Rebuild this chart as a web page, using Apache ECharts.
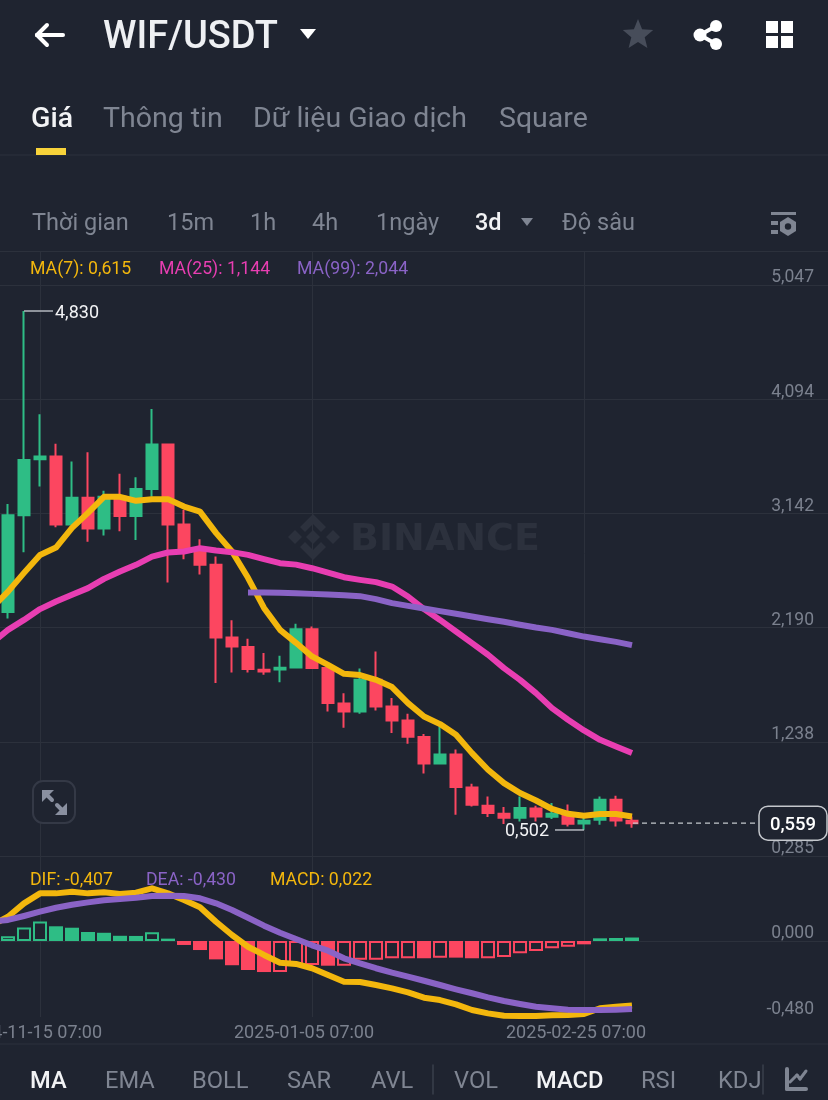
<!DOCTYPE html>
<html><head><meta charset="utf-8">
<style>html,body{margin:0;padding:0;background:#1f2430}#c{width:828px;height:1100px}</style>
<script src="https://cdn.jsdelivr.net/npm/echarts@6/dist/echarts.min.js"></script>
</head><body><div id="c"></div>
<script>
const categories = ['2024-11-06 07:00','2024-11-09 07:00','2024-11-12 07:00','2024-11-15 07:00','2024-11-18 07:00','2024-11-21 07:00','2024-11-24 07:00','2024-11-27 07:00','2024-11-30 07:00','2024-12-03 07:00','2024-12-06 07:00','2024-12-09 07:00','2024-12-12 07:00','2024-12-15 07:00','2024-12-18 07:00','2024-12-21 07:00','2024-12-24 07:00','2024-12-27 07:00','2024-12-30 07:00','2025-01-02 07:00','2025-01-05 07:00','2025-01-08 07:00','2025-01-11 07:00','2025-01-14 07:00','2025-01-17 07:00','2025-01-20 07:00','2025-01-23 07:00','2025-01-26 07:00','2025-01-29 07:00','2025-02-01 07:00','2025-02-04 07:00','2025-02-07 07:00','2025-02-10 07:00','2025-02-13 07:00','2025-02-16 07:00','2025-02-19 07:00','2025-02-22 07:00','2025-02-25 07:00','2025-02-28 07:00','2025-03-03 07:00','2025-03-06 07:00','2025-03-09 07:00','2025-03-12 07:00','2025-03-15 07:00','2025-03-18 07:00','2025-03-21 07:00','2025-03-24 07:00','2025-03-27 07:00','2025-03-30 07:00','2025-04-02 07:00','2025-04-05 07:00','2025-04-08 07:00','2025-04-11 07:00','2025-04-14 07:00'];
const timeTicks = ['2024-11-15 07:00','2025-01-05 07:00','2025-02-25 07:00'];
const priceTicks = ['0,285','1,238','2,190','3,142','4,094','5,047',''];
const macdTicks = ['-0,480','0,000','',''];
// open, close, low, high
const candles = ['-',
[2.319,3.127,2.265,3.221],[3.127,3.588,2.819,4.830],[3.594,3.616,3.366,3.969],[3.616,3.049,3.027,3.722],
[3.049,3.272,3.049,3.574],[3.272,3.016,2.905,3.652],[3.016,3.282,2.957,3.330],[3.282,3.121,2.994,3.472],
[3.121,3.346,2.921,3.444],[3.346,3.716,3.282,4.013],[3.716,3.049,2.565,3.722],[3.049,2.838,2.760,3.171],
[2.844,2.713,2.632,2.927],[2.713,2.107,1.727,2.782],[2.107,2.032,1.815,2.252],[2.027,1.844,1.815,2.096],
[1.838,1.823,1.796,1.977],[1.840,1.854,1.735,1.954],[1.857,2.177,1.848,2.221],[2.177,1.852,1.844,2.199],
[1.852,1.560,1.490,1.854],[1.557,1.490,1.354,1.643],[1.490,1.754,1.471,1.848],[1.754,1.532,1.498,1.990],
[1.532,1.415,1.310,1.602],[1.415,1.279,1.221,1.471],[1.277,1.057,0.973,1.302],[1.057,1.132,1.057,1.371],
[1.132,0.860,0.629,1.173],[0.857,0.712,0.698,0.887],[0.705,0.643,0.610,0.782],[0.637,0.604,0.551,0.693],
[0.604,0.685,0.573,0.782],[0.681,0.615,0.573,0.704],[0.612,0.637,0.593,0.727],[0.629,0.554,0.531,0.714],
[0.557,0.579,0.502,0.615],[0.587,0.754,0.546,0.782],[0.754,0.581,0.531,0.787],[0.579,0.559,0.521,0.615]];
const ma7 = [2.354,2.490,2.646,2.796,2.857,3.021,3.146,3.280,3.280,3.247,3.261,3.261,3.199,3.157,2.980,2.824,2.605,2.354,2.171,2.063,1.949,1.879,1.804,1.794,1.754,1.694,1.560,1.448,1.385,1.296,1.143,1.004,0.893,0.810,0.748,0.677,0.637,0.620,0.635,0.635,0.615];
const ma25 = [2.063,2.171,2.254,2.344,2.407,2.463,2.519,2.596,2.657,2.713,2.782,2.816,2.824,2.852,2.832,2.819,2.796,2.760,2.727,2.715,2.685,2.649,2.610,2.588,2.569,2.532,2.449,2.344,2.254,2.157,2.060,1.963,1.852,1.754,1.643,1.518,1.421,1.332,1.254,1.198,1.144];
const ma99 = ['-','-','-','-','-','-','-','-','-','-','-','-','-','-','-','-',2.482,2.482,2.480,2.477,2.471,2.465,2.460,2.452,2.427,2.394,2.371,2.349,2.327,2.305,2.282,2.260,2.238,2.213,2.190,2.171,2.143,2.115,2.093,2.071,2.044];
const dif = [0.101,0.153,0.238,0.301,0.301,0.311,0.301,0.308,0.297,0.305,0.333,0.301,0.259,0.213,0.122,0.038,-0.036,-0.088,-0.137,-0.145,-0.172,-0.215,-0.257,-0.259,-0.278,-0.299,-0.324,-0.358,-0.373,-0.400,-0.436,-0.457,-0.472,-0.474,-0.474,-0.469,-0.467,-0.461,-0.425,-0.415,-0.407];
const dea = [0.123,0.133,0.158,0.185,0.210,0.229,0.244,0.257,0.265,0.273,0.284,0.286,0.284,0.270,0.238,0.196,0.147,0.097,0.052,0.013,-0.027,-0.061,-0.109,-0.141,-0.172,-0.200,-0.225,-0.251,-0.278,-0.305,-0.330,-0.356,-0.379,-0.398,-0.415,-0.425,-0.434,-0.436,-0.436,-0.434,-0.430];
const macdHist = ['-',0.030,0.086,0.124,0.093,0.084,0.057,0.052,0.033,0.032,0.055,0.015,-0.025,-0.057,-0.116,-0.153,-0.183,-0.196,-0.196,-0.153,-0.152,-0.156,-0.156,-0.118,-0.118,-0.109,-0.109,-0.109,-0.105,-0.105,-0.109,-0.109,-0.101,-0.078,-0.063,-0.046,-0.036,-0.021,0.017,0.019,0.022];
const hollowBars = [1,2,3,10,11,18,19,20,22,23,24,25,26,28,31,32,33,34,35,36,37,40];
const peakLabels = [[2,4.830,'4,830',1],[37,0.502,'0,502',-1]];
const lastPrice = [40,0.559,'0,559'];

const BG='#1f2430', GRID='#2c313c', GREEN='#2ebd85', RED='#fc4660', GOLD='#f3b70d', PINK='#e83eb2', PURPLE='#8a63c6', AXIS='#7b818e', GRAY='#7f8592';
const FONT='Roboto';

function t(text,x,y,size,fill,weight,align,z){return {type:'text',x:x,y:y+2,z:z||10,silent:true,style:{text:text,fill:fill,fontSize:size,fontFamily:FONT,fontWeight:weight||400,align:align||'left',verticalAlign:'middle'}};}
function poly(points,fill,z){return {type:'polygon',z:z||10,silent:true,shape:{points:points},style:{fill:fill}};}
function rect(x,y,w,h,fill,r,z){return {type:'rect',z:z||10,silent:true,shape:{x:x,y:y,width:w,height:h,r:r||0},style:{fill:fill}};}
function ln(x1,y1,x2,y2,stroke,w,z){return {type:'line',z:z||10,silent:true,shape:{x1:x1,y1:y1,x2:x2,y2:y2},style:{stroke:stroke,lineWidth:w,lineCap:'round'}};}
function circ(cx,cy,r,fill,z){return {type:'circle',z:z||10,silent:true,shape:{cx:cx,cy:cy,r:r},style:{fill:fill}};}

const WM='#2c313d';
const graphics=[
  // header
  ln(37,35,63,35,'#fff',4), ln(37,35,47,25,'#fff',4), ln(37,35,47,45,'#fff',4),
  t('WIF/USDT',103,36,38,'#eef0f3',500),
  poly([[300,29],[316,29],[308,39]],'#fff'),
  poly([[638,19],[642.1,29.3],[653.2,30.1],[644.7,37.2],[647.4,47.9],[638,42],[628.6,47.9],[631.3,37.2],[622.8,30.1],[633.9,29.3]],'#474d5a'),
  ln(716,26,700,35,'#fff',4), ln(700,35,716,44,'#fff',4), circ(716,26,6,'#fff'), circ(700,35,6.5,'#fff'), circ(716,44,6,'#fff'),
  rect(766,21,12,12,'#fff'), rect(781,21,12,12,'#fff'), rect(766,36,12,12,'#fff'), rect(781,36,12,12,'#fff'),
  // tabs
  t('Giá',31,118,28.5,'#f2f3f5',500),
  t('Thông tin',103,118,28.5,GRAY), t('Dữ liệu Giao dịch',253,118,28.5,GRAY), t('Square',499,118,28.5,GRAY),
  {type:'text',x:31,y:150,z:9,silent:true,style:{text:'Mức 5',fill:GOLD,fontSize:20,fontFamily:FONT,align:'left',verticalAlign:'middle'}},
  rect(0,137,828,18,BG,0,11),
  rect(36,148,30,7,'#f8d33a',0,13),
  ln(0,155,828,155,GRID,1.2,12),
  // period row
  t('Thời gian',32,222,23.5,GRAY), t('15m',167,222,23.5,GRAY), t('1h',250,222,23.5,GRAY), t('4h',312,222,23.5,GRAY),
  t('1ngày',376,222,23.5,GRAY), t('3d',475,222,23.5,'#f2f3f5',500),
  poly([[521,218],[533,218],[527,226]],GRAY),
  t('Độ sâu',562,222,23.5,GRAY),
  rect(771,212,25,3,GRAY), rect(771,221,7,4,GRAY), rect(771,230,7,4,GRAY),
  poly([[788,217],[796,222],[796,231],[788,236],[780,231],[780,222]],GRAY), circ(788,226.5,3.2,BG,11),
  // indicator legends
  t('MA(7): 0,615',30,268,17.7,GOLD), t('MA(25): 1,144',159,268,17.7,PINK), t('MA(99): 2,044',297,268,17.7,PURPLE),
  t('DIF: -0,407',30,879,17.7,GOLD), t('DEA: -0,430',146,879,17.7,PURPLE), t('MACD: 0,022',270,879,17.7,GOLD),
  // watermark
  {type:'text',x:350,y:540,z:0,silent:true,style:{text:'BINANCE',fill:WM,fontSize:38,fontWeight:700,fontFamily:'DejaVu Sans',align:'left',verticalAlign:'middle'}},
  poly([[313,530],[320,537],[313,544],[306,537]],WM,0),
  poly([[295,530],[302,537],[295,544],[288,537]],WM,0),
  poly([[333,530],[340,537],[333,544],[326,537]],WM,0),
  poly([[313,514],[326,527],[321,532],[313,524],[305,532],[300,527]],WM,0),
  poly([[313,560],[326,547],[321,542],[313,550],[305,542],[300,547]],WM,0),
  // expand button
  {type:'rect',z:10,silent:true,shape:{x:33,y:781,width:42,height:42,r:10},style:{fill:BG,stroke:'#343946',lineWidth:2}},
  poly([[42,790],[54,790],[42,802]],'#8a90a0',11), ln(46,794,52,800,'#8a90a0',4,11),
  poly([[67,815],[55,815],[67,803]],'#8a90a0',11), ln(63,811,57,805,'#8a90a0',4,11),
  // bottom tabs
  ln(0,1044,828,1044,GRID,1.2),
  t('MA',30,1080,23.7,'#f2f3f5',500), t('EMA',105,1080,23.7,GRAY), t('BOLL',192,1080,23.7,GRAY), t('SAR',287,1080,23.7,GRAY), t('AVL',371,1080,23.7,GRAY),
  ln(433,1065,433,1094,'#3a3f4b',1.5),
  t('VOL',454,1080,23.7,GRAY), t('MACD',536,1080,23.7,'#f2f3f5',500), t('RSI',641,1080,23.7,GRAY), t('KDJ',718,1080,23.7,GRAY),
  ln(763,1065,763,1094,'#3a3f4b',1.5),
  ln(787,1069,787,1089,GRAY,4), ln(787,1089,806,1089,GRAY,4), ln(790,1082,797,1075,GRAY,3), ln(797,1075,800,1079,GRAY,3), ln(800,1079,806,1071,GRAY,3)
];

const chart=echarts.init(document.getElementById('c'),null,{renderer:'canvas',width:828,height:1100});
const xLabelShown=(i)=>timeTicks.includes(categories[i]);
const barData=macdHist.map((v,i)=>{
  if(v==='-') return v;
  const c=v>0?GREEN:RED;
  return hollowBars.includes(i)
    ? {value:v,itemStyle:{color:BG,borderColor:c,borderWidth:2}}
    : {value:v,itemStyle:{color:c,borderWidth:0}};
});
const lineOf=(name,data,color,x)=>({name:name,type:'line',data:data,xAxisIndex:x,yAxisIndex:x,showSymbol:false,symbol:'none',silent:true,smooth:false,lineStyle:{color:color,width:6,cap:'butt',join:'round'},z:3,animation:false});

chart.setOption({
  animation:false,
  backgroundColor:BG,
  tooltip:{show:false},
  graphic:{elements:graphics},
  grid:[
    {left:-8,right:-12,top:251,bottom:244,containLabel:false,outerBoundsMode:'none'},
    {left:-8,right:-12,top:856,bottom:83,containLabel:false,outerBoundsMode:'none'}
  ],
  xAxis:[
    {type:'category',gridIndex:0,data:categories,boundaryGap:false,axisLine:{show:false},axisTick:{show:false},axisLabel:{show:false},
     splitLine:{show:true,interval:(i)=>xLabelShown(i),lineStyle:{color:GRID,width:1}}},
    {type:'category',gridIndex:1,data:categories,boundaryGap:false,axisLine:{show:true,lineStyle:{color:GRID,width:1}},axisTick:{show:false},
     axisLabel:{show:true,interval:(i)=>xLabelShown(i),color:AXIS,fontFamily:FONT,fontSize:18,margin:7,hideOverlap:false,padding:[0,16,0,0]},
     splitLine:{show:true,interval:(i)=>xLabelShown(i),lineStyle:{color:GRID,width:1}}}
  ],
  yAxis:[
    {type:'value',gridIndex:0,position:'right',min:0.285,max:5.3304,interval:0.9524,axisLine:{show:false},axisTick:{show:false},
     axisLabel:{inside:true,margin:26,color:AXIS,fontFamily:FONT,fontSize:17.5,verticalAlign:'bottom',lineHeight:14,showMinLabel:true,showMaxLabel:false,formatter:(v,i)=>priceTicks[i]},
     splitLine:{show:true,lineStyle:{color:GRID,width:1}}},
    {type:'value',gridIndex:1,position:'right',min:-0.48,max:0.537,interval:0.48,axisLine:{show:false},axisTick:{show:false},
     axisLabel:{inside:true,margin:26,color:AXIS,fontFamily:FONT,fontSize:17.5,verticalAlign:'bottom',lineHeight:14,showMinLabel:true,showMaxLabel:false,formatter:(v,i)=>macdTicks[i]},
     splitLine:{show:false}}
  ],
  series:[
    {name:'WIF/USDT',type:'candlestick',data:candles,xAxisIndex:0,yAxisIndex:0,barWidth:12,silent:true,z:2,
     itemStyle:{color:GREEN,color0:RED,borderColor:GREEN,borderColor0:RED,borderWidth:2}},
    lineOf('MA(7)',ma7,GOLD,0), lineOf('MA(25)',ma25,PINK,0), lineOf('MA(99)',ma99,PURPLE,0),
    {name:'MACD',type:'bar',data:barData,xAxisIndex:1,yAxisIndex:1,barWidth:14,silent:true,z:2},
    lineOf('DIF',dif,GOLD,1), lineOf('DEA',dea,PURPLE,1),
    {name:'Peaks',type:'custom',xAxisIndex:0,yAxisIndex:0,data:peakLabels.map(p=>[p[0],p[1],p[3]]),clip:false,silent:true,z:6,
     renderItem:(params,api)=>{
       const p=api.coord([api.value(0),api.value(1)]);
       const d=api.value(2);
       const text=peakLabels[params.dataIndex][2];
       return {type:'group',children:[
         {type:'line',shape:{x1:p[0],y1:p[1],x2:p[0]+d*29,y2:p[1]},style:{stroke:'#b4b8bf',lineWidth:1.5}},
         {type:'text',style:{text:text,x:p[0]+(d>0?31:-35),y:p[1]+2,fill:'#f2f3f5',fontSize:18,fontFamily:FONT,align:d>0?'left':'right',verticalAlign:'middle'}}
       ]};
     }},
    {name:'Last',type:'custom',xAxisIndex:0,yAxisIndex:0,data:[[lastPrice[0],lastPrice[1]]],clip:false,silent:true,z:7,
     renderItem:(params,api)=>{
       const p=api.coord([api.value(0),api.value(1)]);
       return {type:'group',children:[
         {type:'line',shape:{x1:p[0]+1,y1:p[1],x2:757,y2:p[1]},style:{stroke:'#c4c7cc',lineWidth:1.2,lineDash:[5,4]}},
         {type:'rect',shape:{x:759,y:p[1]-17,width:68,height:34,r:9},style:{fill:BG,stroke:'#c4c7cc',lineWidth:1.5}},
         {type:'text',style:{text:lastPrice[2],x:793,y:p[1]+2,fill:'#fff',fontSize:18.5,fontWeight:500,fontFamily:FONT,align:'center',verticalAlign:'middle'}}
       ]};
     }}
  ]
});
</script></body></html>
